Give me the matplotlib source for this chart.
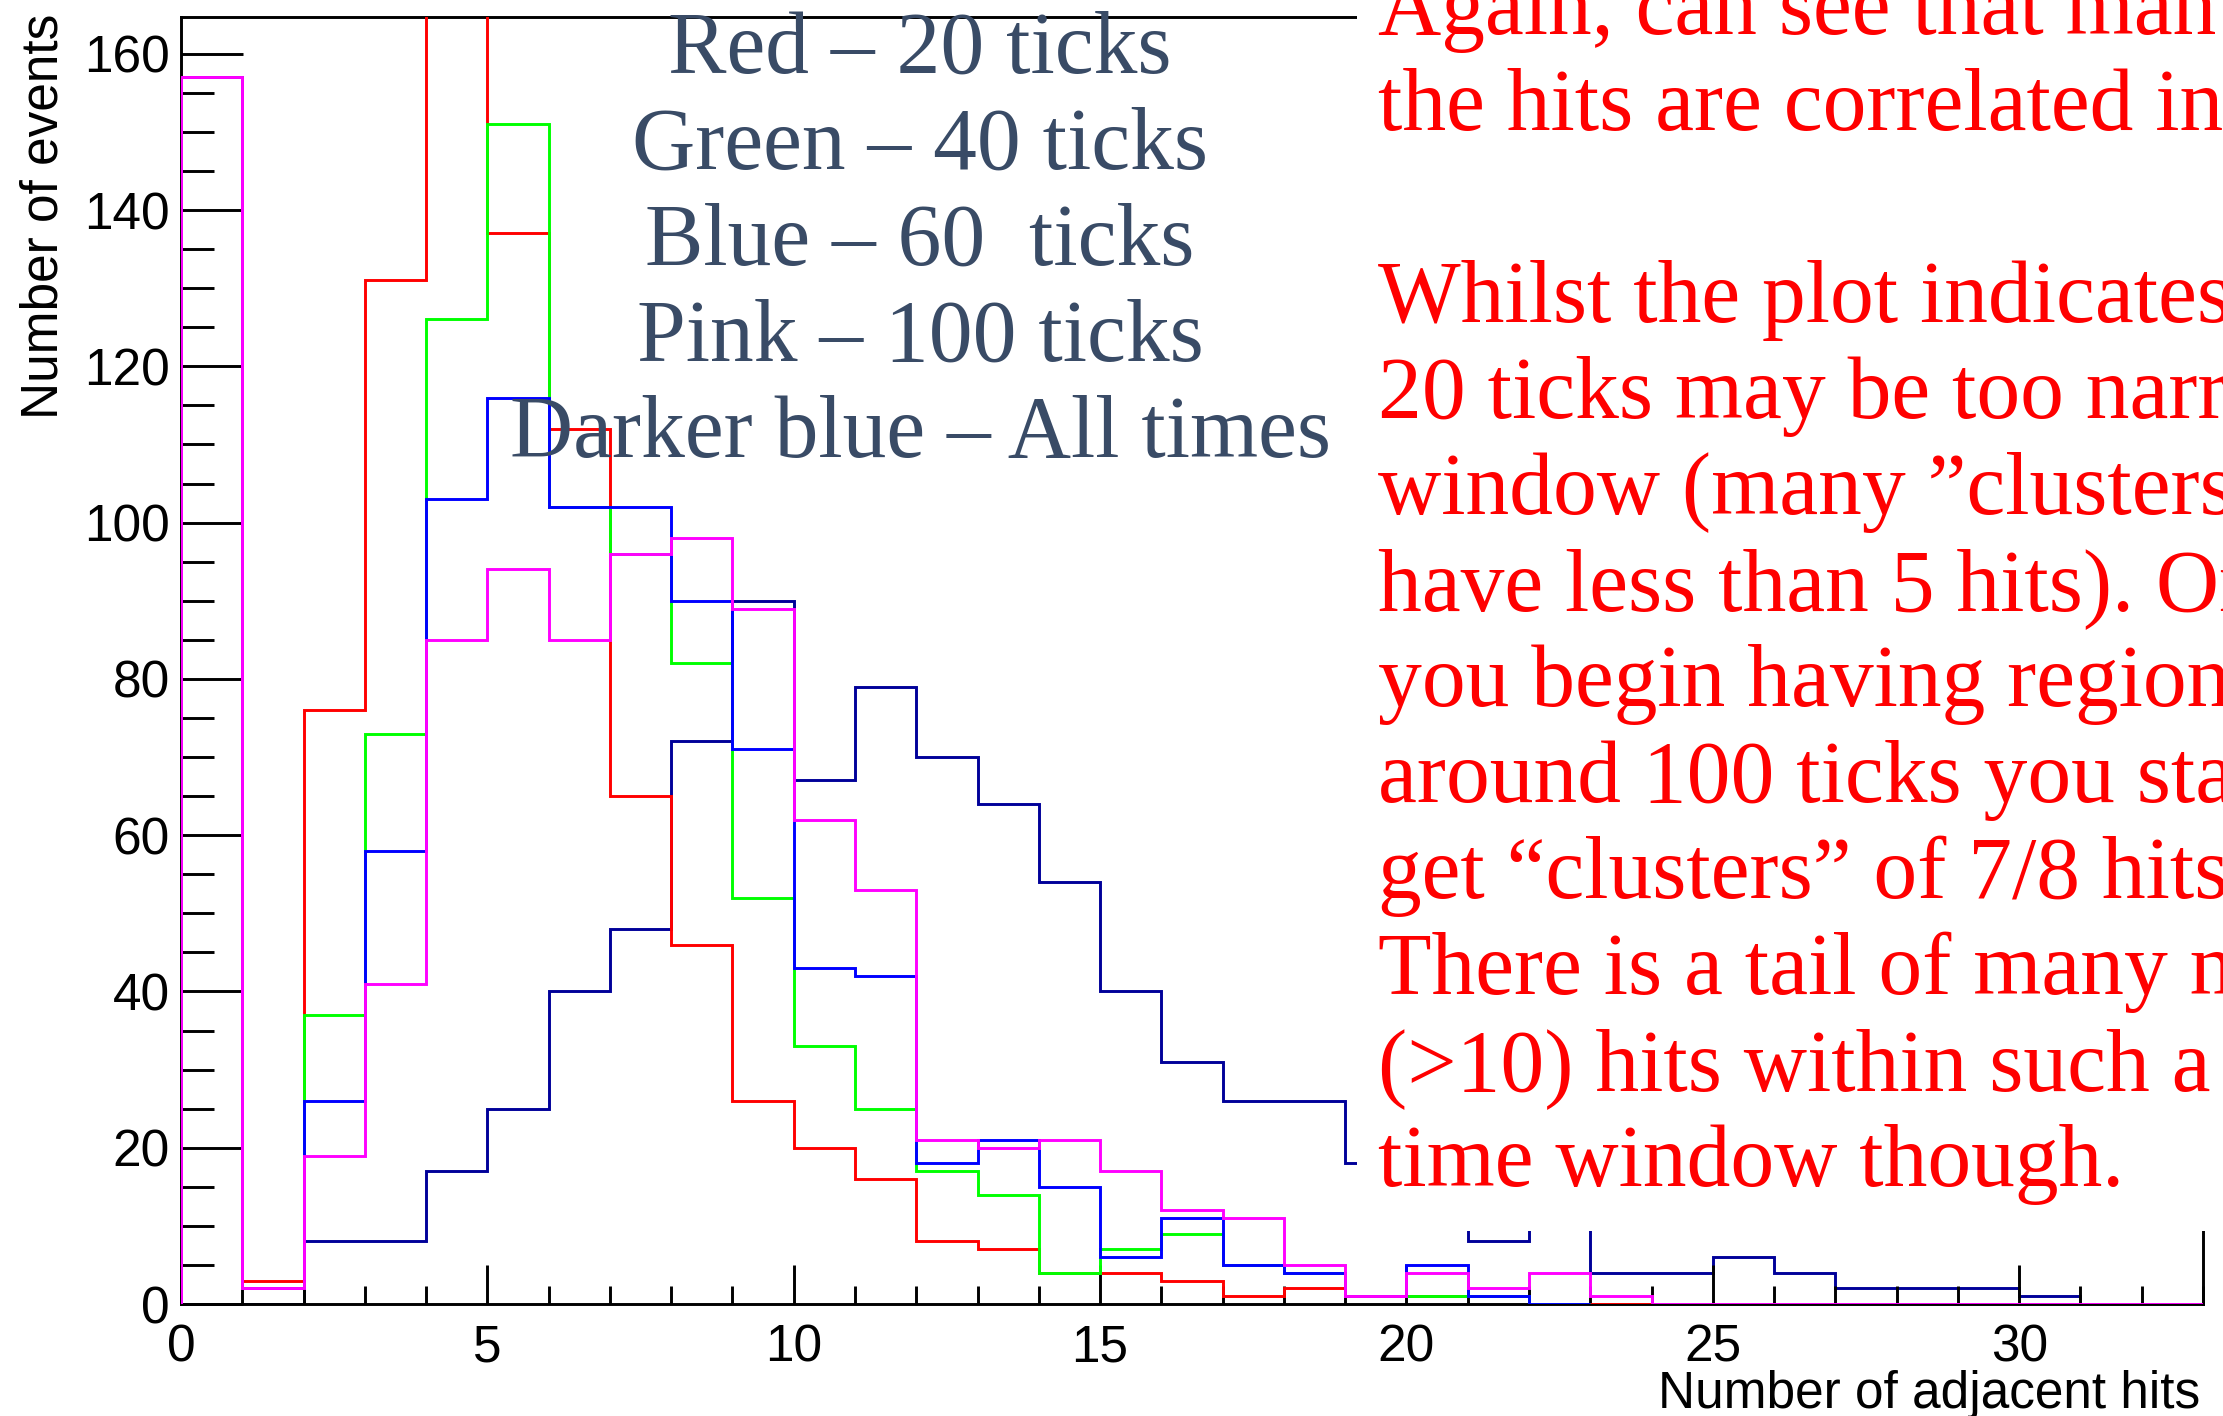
import matplotlib
matplotlib.use('Agg')
import matplotlib.pyplot as plt
from matplotlib.patches import Rectangle
from matplotlib.ticker import MultipleLocator
import numpy as np

# ---------------- data ----------------
# bin contents, bins of width 1 starting at 0 ("Number of adjacent hits")
red_20 = [157, 3, 76, 131, 175, 137, 112, 65, 46, 26, 20, 16, 8, 7, 4, 4, 3, 1, 2,
          1, 1, 1, 0, 0]
green_40 = [157, 2, 37, 73, 126, 151, 102, 96, 82, 52, 33, 25, 17, 14, 4, 7, 9, 5, 4,
            1, 1, 1, 0]
blue_60 = [157, 2, 26, 58, 103, 116, 102, 102, 90, 71, 43, 42, 18, 21, 15, 6, 11, 5, 4,
           1, 5, 1, 0]
pink_100 = [157, 2, 19, 41, 85, 94, 85, 96, 98, 89, 62, 53, 21, 20, 21, 17, 12, 11, 5,
            1, 4, 2, 4, 1, 0, 0, 0, 0, 0, 0, 0, 0, 0]
darkblue_all = [0, 0, 8, 8, 17, 25, 40, 48, 72, 90, 67, 79, 70, 64, 54, 40, 31, 26, 26,
                18, 12, 8, 11, 4, 4, 6, 4, 2, 2, 2, 1, 0, 0]

x_ticks = [0, 5, 10, 15, 20, 25, 30]
y_ticks = [0, 20, 40, 60, 80, 100, 120, 140, 160]

legend_lines = ["Red \u2013 20 ticks", "Green \u2013 40 ticks", "Blue \u2013 60  ticks",
                "Pink \u2013 100 ticks", "Darker blue \u2013 All times"]
note_lines = ["Again, can see that man",
              "the hits are correlated in",
              "",
              "Whilst the plot indicates",
              "20 ticks may be too narr",
              "window (many \u201dclusters",
              "have less than 5 hits). Or",
              "you begin having region",
              "around 100 ticks you sta",
              "get \u201cclusters\u201d of 7/8 hits",
              "There is a tail of many m",
              "(>10) hits within such a",
              "time window though."]

# ---------------- figure ----------------
W, H = 2223, 1416
fig = plt.figure(figsize=(W / 100, H / 100), dpi=100)
fig.patch.set_facecolor('white')

L, R, T, B = 181, 2203, 17, 1304
ax = fig.add_axes([L / W, (H - B) / H, (R - L) / W, (B - T) / H])
ax.set_xlim(0, 33)
ax.set_ylim(0, 164.7)
ax.set_axisbelow(False)

series = [
    (darkblue_all, '#000099', 2.2),
    (red_20, '#ff0000', 3.0),
    (green_40, '#00ff00', 3.1),
    (blue_60, '#0000ff', 3.2),
    (pink_100, '#ff00ff', 3.3),
]
for vals, col, z in series:
    edges = np.arange(len(vals) + 1)
    ax.stairs(vals, edges, baseline=0, color=col, lw=2.1, zorder=z)

for sp in ax.spines.values():
    sp.set_linewidth(2.1)
    sp.set_color('black')

ax.set_xticks(x_ticks)
ax.set_yticks(y_ticks)
ax.xaxis.set_minor_locator(MultipleLocator(1))
ax.yaxis.set_minor_locator(MultipleLocator(5))
ax.tick_params(which='both', direction='in', top=False, right=False, width=2.1,
               color='black')
ax.tick_params(axis='x', which='major', length=28, pad=14)
ax.tick_params(axis='x', which='minor', length=13)
ax.tick_params(axis='y', which='major', length=44.5, pad=8)
ax.tick_params(axis='y', which='minor', length=23.5)
for lab in ax.get_xticklabels() + ax.get_yticklabels():
    lab.set_family('Liberation Sans')
    lab.set_fontsize(37)

fig.text(44 / W, 1 - 14 / H, 'Number of events', rotation=90, ha='center', va='top',
         fontsize=37, family='Liberation Sans')
fig.text(2200 / W, (H - 1408) / H, 'Number of adjacent hits', ha='right',
         va='baseline', fontsize=37, family='Liberation Sans')

# slide text box covering the upper-right part of the plot
fig.add_artist(Rectangle((1357 / W, (H - 1231) / H), 1, 1, transform=fig.transFigure,
                         facecolor='white', edgecolor='none', zorder=5))

slate = '#394b66'
for i, s in enumerate(legend_lines):
    fig.text(920 / W, 1 - (73 + 96.0 * i) / H, s, ha='center', va='baseline',
             fontsize=63, family='Liberation Serif', color=slate, zorder=6)

for i, s in enumerate(note_lines):
    if s:
        fig.text(1378 / W, 1 - (34 + 96.0 * i) / H, s, ha='left', va='baseline',
                 fontsize=63, family='Liberation Serif', color='#ff0000', zorder=6)

fig.savefig('out.png', dpi=100)
